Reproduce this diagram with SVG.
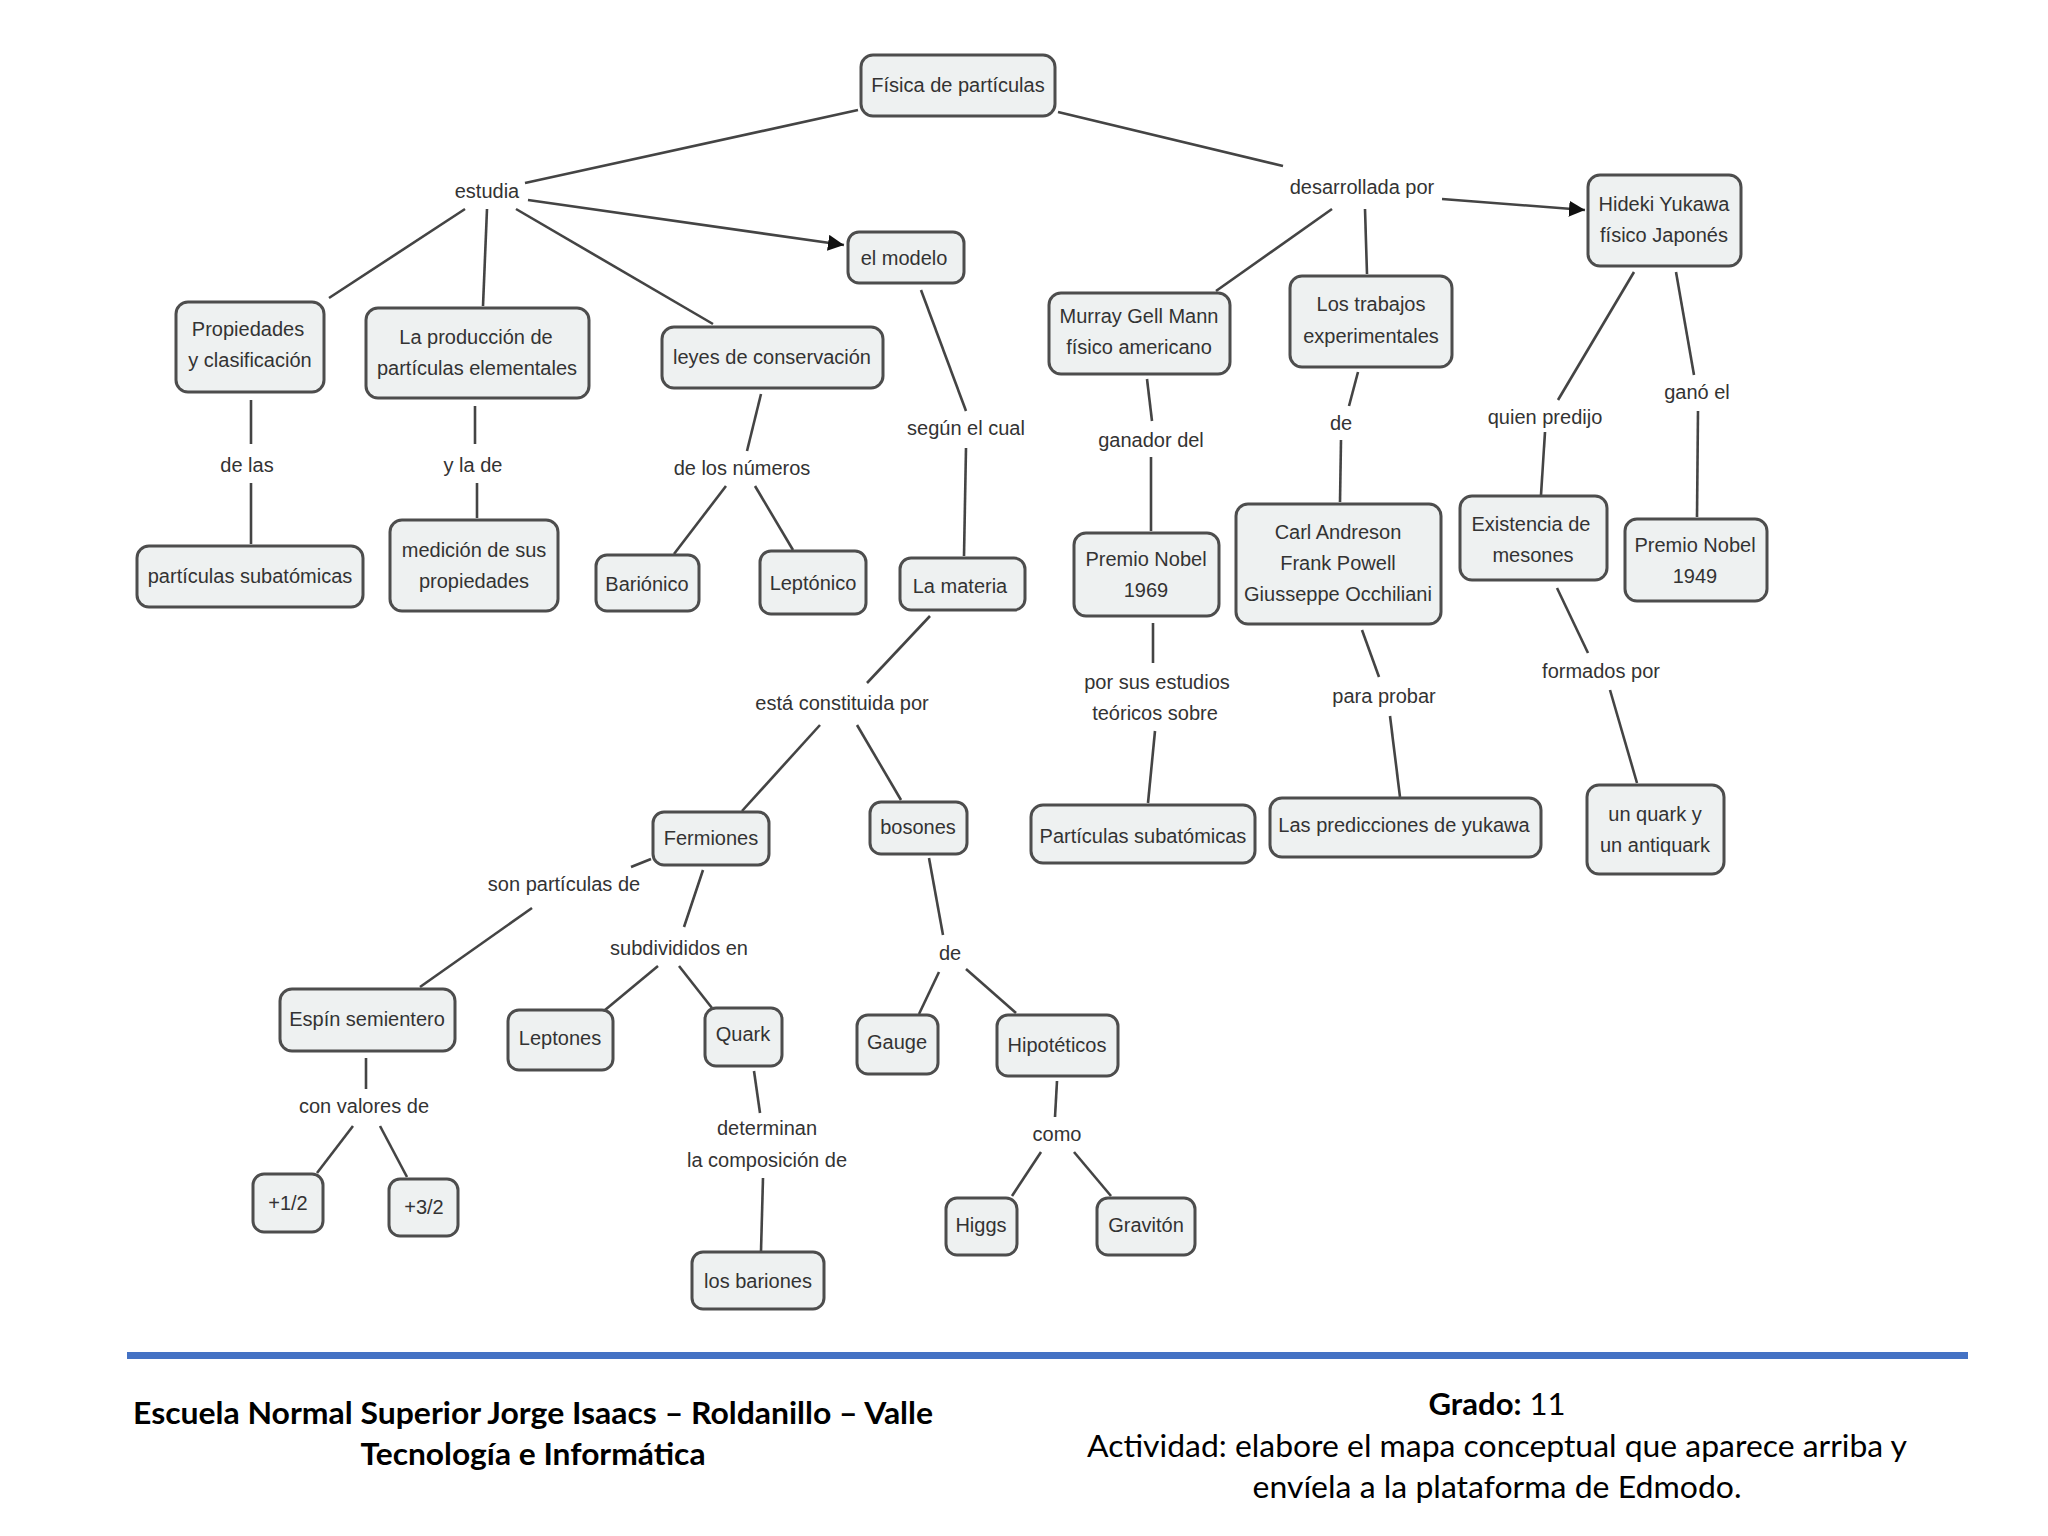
<svg xmlns="http://www.w3.org/2000/svg" width="2048" height="1536" viewBox="0 0 2048 1536">
<defs>
<style>
.n rect{fill:#eef1f1;stroke:#4d4d4d;stroke-width:3}
.n text,.lbl text{font-family:"Liberation Sans",Arial,sans-serif;font-size:20px;fill:#333;text-anchor:middle}
#connectors line{stroke:#444;stroke-width:2.6;fill:none}
.ft{font-family:Lato,"Liberation Sans",sans-serif;font-size:30px;fill:#000;text-anchor:middle}
</style>
<marker id="ah" viewBox="0 0 10 10" refX="10" refY="5" markerWidth="16" markerHeight="16" markerUnits="userSpaceOnUse" orient="auto">
<path d="M0,0 L10,5 L0,10 z" fill="#111"/>
</marker>
</defs>
<rect width="2048" height="1536" fill="#fff"/>

<g id="connectors">
<line x1="858" y1="110" x2="525" y2="183"/>
<line x1="1058" y1="112" x2="1283" y2="166"/>
<line x1="465" y1="209" x2="329" y2="298"/>
<line x1="487" y1="209" x2="483" y2="306"/>
<line x1="516" y1="209" x2="713" y2="324"/>
<line x1="528" y1="200" x2="844" y2="245" marker-end="url(#ah)"/>
<line x1="921" y1="290" x2="966" y2="411"/>
<line x1="966" y1="448" x2="964" y2="556"/>
<line x1="251" y1="400" x2="251" y2="444"/>
<line x1="251" y1="483" x2="251" y2="544"/>
<line x1="475" y1="406" x2="475" y2="444"/>
<line x1="477" y1="483" x2="477" y2="518"/>
<line x1="761" y1="394" x2="747" y2="451"/>
<line x1="726" y1="486" x2="674" y2="554"/>
<line x1="755" y1="486" x2="793" y2="550"/>
<line x1="1442" y1="199" x2="1585" y2="210" marker-end="url(#ah)"/>
<line x1="1332" y1="209" x2="1216" y2="291"/>
<line x1="1365" y1="209" x2="1367" y2="274"/>
<line x1="1147" y1="379" x2="1152" y2="421"/>
<line x1="1151" y1="457" x2="1151" y2="531"/>
<line x1="1358" y1="372" x2="1349" y2="406"/>
<line x1="1341" y1="440" x2="1340" y2="502"/>
<line x1="1634" y1="272" x2="1558" y2="400"/>
<line x1="1545" y1="432" x2="1541" y2="495"/>
<line x1="1676" y1="272" x2="1694" y2="375"/>
<line x1="1698" y1="411" x2="1697" y2="517"/>
<line x1="930" y1="616" x2="867" y2="683"/>
<line x1="820" y1="725" x2="742" y2="811"/>
<line x1="857" y1="725" x2="901" y2="800"/>
<line x1="1153" y1="623" x2="1153" y2="663"/>
<line x1="1155" y1="731" x2="1148" y2="803"/>
<line x1="1362" y1="630" x2="1379" y2="677"/>
<line x1="1390" y1="716" x2="1400" y2="797"/>
<line x1="1557" y1="588" x2="1588" y2="653"/>
<line x1="1610" y1="690" x2="1637" y2="783"/>
<line x1="651" y1="859" x2="631" y2="867"/>
<line x1="532" y1="908" x2="420" y2="987"/>
<line x1="703" y1="870" x2="684" y2="927"/>
<line x1="658" y1="966" x2="605" y2="1010"/>
<line x1="679" y1="966" x2="712" y2="1008"/>
<line x1="929" y1="858" x2="943" y2="935"/>
<line x1="939" y1="972" x2="919" y2="1014"/>
<line x1="966" y1="969" x2="1016" y2="1013"/>
<line x1="366" y1="1058" x2="366" y2="1089"/>
<line x1="353" y1="1126" x2="317" y2="1173"/>
<line x1="380" y1="1126" x2="407" y2="1177"/>
<line x1="754" y1="1071" x2="760" y2="1113"/>
<line x1="763" y1="1178" x2="761" y2="1251"/>
<line x1="1057" y1="1081" x2="1055" y2="1117"/>
<line x1="1041" y1="1152" x2="1012" y2="1196"/>
<line x1="1074" y1="1152" x2="1111" y2="1196"/>
</g>

<g class="lbl" id="labels">
<text x="487" y="198">estudia</text>
<text x="1362" y="194">desarrollada por</text>
<text x="247" y="472">de las</text>
<text x="473" y="472">y la de</text>
<text x="742" y="475">de los números</text>
<text x="966" y="435">según el cual</text>
<text x="1151" y="447">ganador del</text>
<text x="1341" y="430">de</text>
<text x="1545" y="424">quien predijo</text>
<text x="1697" y="399">ganó el</text>
<text x="842" y="710">está constituida por</text>
<text x="1157" y="689">por  sus estudios</text>
<text x="1155" y="720">teóricos sobre</text>
<text x="1384" y="703">para probar</text>
<text x="1601" y="678">formados por</text>
<text x="564" y="891">son partículas de</text>
<text x="679" y="955">subdivididos en</text>
<text x="950" y="960">de</text>
<text x="364" y="1113">con valores de</text>
<text x="767" y="1135">determinan</text>
<text x="767" y="1167">la composición de</text>
<text x="1057" y="1141">como</text>
</g>

<g class="n" id="n-fisica"><rect x="861" y="55" width="194" height="61" rx="12"/><text x="958" y="92">Física de partículas</text></g>
<g class="n" id="n-modelo"><rect x="848" y="232" width="116" height="51" rx="11"/><text x="904" y="265">el modelo</text></g>
<g class="n" id="n-yukawa"><rect x="1588" y="175" width="153" height="91" rx="12"/><text x="1664" y="211">Hideki Yukawa</text><text x="1664" y="242">físico Japonés</text></g>
<g class="n" id="n-propiedades"><rect x="176" y="302" width="148" height="90" rx="12"/><text x="248" y="336">Propiedades</text><text x="250" y="367">y clasificación</text></g>
<g class="n" id="n-produccion"><rect x="366" y="308" width="223" height="90" rx="12"/><text x="476" y="344">La producción de</text><text x="477" y="375">partículas elementales</text></g>
<g class="n" id="n-leyes"><rect x="662" y="327" width="221" height="61" rx="12"/><text x="772" y="364">leyes de conservación</text></g>
<g class="n" id="n-murray"><rect x="1049" y="293" width="181" height="81" rx="12"/><text x="1139" y="323">Murray Gell Mann</text><text x="1139" y="354">físico americano</text></g>
<g class="n" id="n-trabajos"><rect x="1290" y="276" width="162" height="91" rx="12"/><text x="1371" y="311">Los trabajos</text><text x="1371" y="343">experimentales</text></g>
<g class="n" id="n-particulas1"><rect x="137" y="546" width="226" height="61" rx="12"/><text x="250" y="583">partículas subatómicas</text></g>
<g class="n" id="n-medicion"><rect x="390" y="520" width="168" height="91" rx="12"/><text x="474" y="557">medición de sus</text><text x="474" y="588">propiedades</text></g>
<g class="n" id="n-barionico"><rect x="596" y="555" width="103" height="56" rx="11"/><text x="647" y="591">Bariónico</text></g>
<g class="n" id="n-leptonico"><rect x="760" y="551" width="106" height="63" rx="11"/><text x="813" y="590">Leptónico</text></g>
<g class="n" id="n-materia"><rect x="900" y="558" width="125" height="52" rx="11"/><text x="960" y="593">La materia</text></g>
<g class="n" id="n-nobel1969"><rect x="1074" y="533" width="145" height="83" rx="12"/><text x="1146" y="566">Premio Nobel</text><text x="1146" y="597">1969</text></g>
<g class="n" id="n-carl"><rect x="1236" y="504" width="205" height="120" rx="12"/><text x="1338" y="539">Carl Andreson</text><text x="1338" y="570">Frank Powell</text><text x="1338" y="601">Giusseppe Occhiliani</text></g>
<g class="n" id="n-existencia"><rect x="1460" y="496" width="147" height="84" rx="12"/><text x="1531" y="531">Existencia de</text><text x="1533" y="562">mesones</text></g>
<g class="n" id="n-nobel1949"><rect x="1625" y="519" width="142" height="82" rx="12"/><text x="1695" y="552">Premio Nobel</text><text x="1695" y="583">1949</text></g>
<g class="n" id="n-fermiones"><rect x="653" y="812" width="116" height="53" rx="11"/><text x="711" y="845">Fermiones</text></g>
<g class="n" id="n-bosones"><rect x="870" y="802" width="97" height="52" rx="11"/><text x="918" y="834">bosones</text></g>
<g class="n" id="n-particulas2"><rect x="1031" y="805" width="224" height="58" rx="12"/><text x="1143" y="843">Partículas subatómicas</text></g>
<g class="n" id="n-predicciones"><rect x="1270" y="798" width="271" height="59" rx="12"/><text x="1404" y="832">Las predicciones de yukawa</text></g>
<g class="n" id="n-quarkanti"><rect x="1587" y="785" width="137" height="89" rx="12"/><text x="1655" y="821">un quark y</text><text x="1655" y="852">un antiquark</text></g>
<g class="n" id="n-espin"><rect x="280" y="989" width="175" height="62" rx="12"/><text x="367" y="1026">Espín semientero</text></g>
<g class="n" id="n-leptones"><rect x="508" y="1010" width="105" height="60" rx="11"/><text x="560" y="1045">Leptones</text></g>
<g class="n" id="n-quark"><rect x="705" y="1008" width="77" height="58" rx="11"/><text x="743" y="1041">Quark</text></g>
<g class="n" id="n-gauge"><rect x="857" y="1015" width="81" height="59" rx="11"/><text x="897" y="1049">Gauge</text></g>
<g class="n" id="n-hipoteticos"><rect x="997" y="1015" width="121" height="61" rx="11"/><text x="1057" y="1052">Hipotéticos</text></g>
<g class="n" id="n-mas12"><rect x="253" y="1174" width="70" height="58" rx="11"/><text x="288" y="1210">+1/2</text></g>
<g class="n" id="n-mas32"><rect x="389" y="1179" width="69" height="57" rx="11"/><text x="424" y="1214">+3/2</text></g>
<g class="n" id="n-higgs"><rect x="946" y="1198" width="71" height="57" rx="11"/><text x="981" y="1232">Higgs</text></g>
<g class="n" id="n-graviton"><rect x="1097" y="1198" width="98" height="57" rx="11"/><text x="1146" y="1232">Gravitón</text></g>
<g class="n" id="n-bariones"><rect x="692" y="1252" width="132" height="57" rx="11"/><text x="758" y="1288">los bariones</text></g>

<g id="footer">
<rect x="127" y="1352" width="1841" height="7" fill="#4472c4"/>
<text class="ft" x="533" y="1424" font-weight="bold" textLength="800" lengthAdjust="spacingAndGlyphs">Escuela Normal Superior Jorge Isaacs – Roldanillo – Valle</text>
<text class="ft" x="533" y="1465" font-weight="bold" textLength="345" lengthAdjust="spacingAndGlyphs">Tecnología e Informática</text>
<text class="ft" x="1497" y="1415" textLength="137" lengthAdjust="spacingAndGlyphs"><tspan font-weight="bold">Grado:</tspan> 11</text>
<text class="ft" x="1497" y="1457" textLength="820" lengthAdjust="spacingAndGlyphs">Actividad: elabore el mapa conceptual que aparece arriba y</text>
<text class="ft" x="1497" y="1498" textLength="489" lengthAdjust="spacingAndGlyphs">envíela a la plataforma de Edmodo.</text>
</g>
</svg>
